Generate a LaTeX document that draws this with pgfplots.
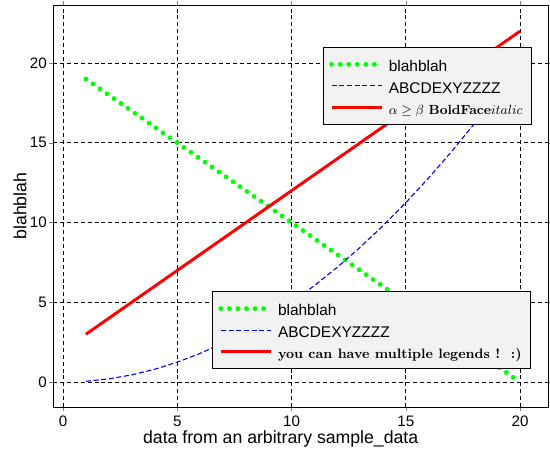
\documentclass[border=0pt]{standalone}
\usepackage{fontspec}
\setmainfont{Liberation Sans}
\newfontfamily\lmfont{Latin Modern Roman}
\usepackage{pgfplots}
\pgfplotsset{compat=1.18}
\definecolor{lineblue}{RGB}{0,0,255}
\definecolor{linegreen}{RGB}{0,255,0}
\definecolor{linered}{RGB}{255,0,0}

% blue stroke set straight in the page, for the legend line
\makeatletter
\newcommand\rawbluestroke{\pgfsys@invoke{0 0 1 RG}}
\makeatother

\tikzset{
  greendots/.style={color=linegreen, line width=3.3pt, line cap=round, dash pattern=on 0pt off 5.8pt},
  bluedash/.style={color=lineblue, line width=0.75pt, dash pattern=on 3.4pt off 1.8pt},
  redline/.style={color=linered, line width=2pt},
}

\pgfplotsset{
  common/.style={
    width=336pt, height=273pt, scale only axis,
    xmin=-0.44, xmax=21.22, ymin=-1.57, ymax=23.64,
    xtick={0,5,...,20}, ytick={0,5,...,20},
    /pgf/number format/assume math mode=true,
    tick label style={font=\fontsize{10.3}{12}\selectfont},
    yticklabel style={inner xsep=1.5pt},
    tick align=outside, major tick length=2.5pt,
    legend cell align=left,
    legend style={fill=black!5, draw=black, line width=0.6pt,
      font=\fontsize{10.5}{13}\selectfont, inner xsep=4pt, inner ysep=4.3pt,
      row sep=0pt, nodes={inner ysep=0pt, text height=12.3pt, text depth=2.3pt},
      /tikz/every odd column/.append style={column sep=1pt}},
  },
  greenimg/.style={legend image code/.code={\draw[greendots] (0cm,0cm) -- (1.2cm,0cm);}},
  blueimg/.style={legend image code/.code={\begin{scope}\rawbluestroke
      \draw[line width=0.75pt, dash pattern=on 3.4pt off 1.8pt] (0cm,0cm) -- (1.2cm,0cm);\end{scope}}},
  redimg/.style={legend image code/.code={\draw[redline] (0cm,0cm) -- (1.2cm,0cm);}},
}

\begin{document}
\begin{tikzpicture}
\begin{axis}[
    common,
    xlabel={data from an arbitrary sample\_data},
    ylabel={blahblah},
    label style={font=\fontsize{12}{14}\selectfont},
    xlabel style={at={(axis description cs:0.46,0)}, anchor=base, yshift=-24.4pt},
    ylabel style={at={(axis description cs:-0.0667,0.5)}, anchor=center},
    grid=major,
    major grid style={black, line width=0.5pt, dash pattern=on 2.7pt off 2pt},
    legend style={at={(0.9677,0.896)}, anchor=north east},
]
\addplot[greendots, greenimg] coordinates {(1,19) (20,0)};
\addlegendentry{blahblah}

\addplot[bluedash, blueimg] coordinates {
  (1,0.05) (2,0.2) (3,0.45) (4,0.8) (5,1.25) (6,1.8) (7,2.45) (8,3.2)
  (9,4.05) (10,5) (11,6.05) (12,7.2) (13,8.45) (14,9.8) (15,11.25)
  (16,12.8) (17,14.45) (18,16.2) (19,18.05) (20,20)
};
\addlegendentry{ABCDEXYZZZZ}

\addplot[redline, redimg] coordinates {(1,3) (20,22)};
\addlegendentry{{\lmfont\fontsize{9}{12}\selectfont $\alpha \geq \beta$ \textbf{BoldFace}$italic$}}
\end{axis}

\begin{axis}[
    common,
    hide axis,
    legend style={at={(0.9657,0.2886)}, anchor=north east},
]
\addlegendimage{greenimg}
\addlegendentry{blahblah}
\addlegendimage{blueimg}
\addlegendentry{ABCDEXYZZZZ}
\addlegendimage{redimg}
\addlegendentry{{\lmfont\fontsize{9.25}{12}\selectfont\bfseries you can have multiple legends !\ \ :)}}
\end{axis}

\pgfresetboundingbox
\path[use as bounding box] ([xshift=-36pt,yshift=-31.2pt]current axis.south west)
  rectangle ([xshift=1.4pt,yshift=3.4pt]current axis.north east);
\end{tikzpicture}
\end{document}
